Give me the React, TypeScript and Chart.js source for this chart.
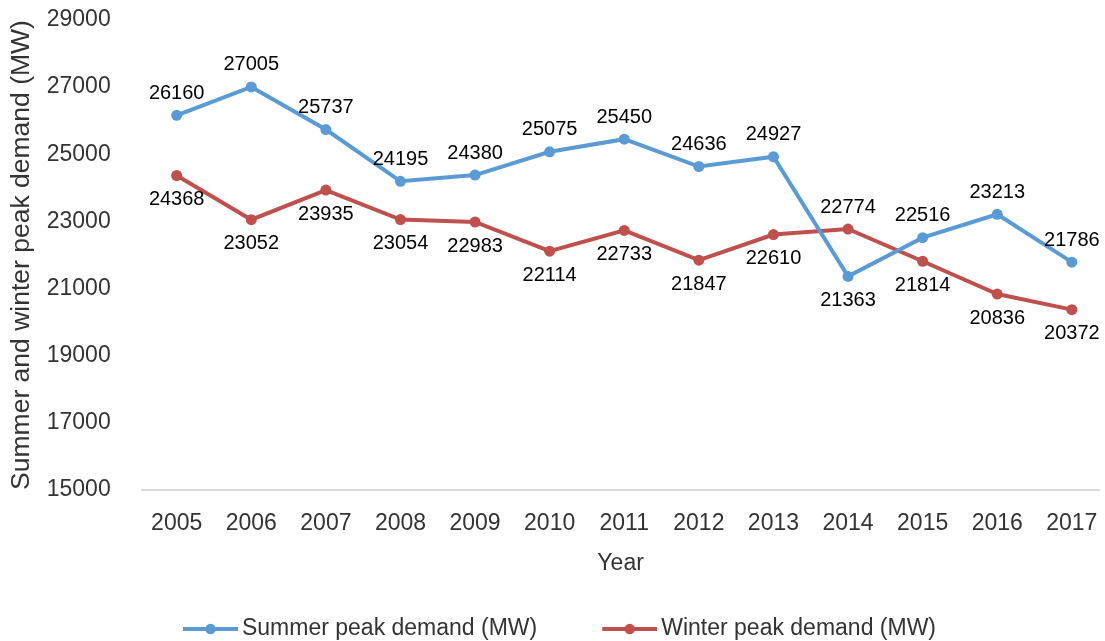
import { useEffect, useRef } from "react";
import { Chart, registerables } from "chart.js";

Chart.register(...registerables);

const years = [2005, 2006, 2007, 2008, 2009, 2010, 2011, 2012, 2013, 2014, 2015, 2016, 2017];
const summerPeak = [26160, 27005, 25737, 24195, 24380, 25075, 25450, 24636, 24927, 21363, 22516, 23213, 21786];
const winterPeak = [24368, 23052, 23935, 23054, 22983, 22114, 22733, 21847, 22610, 22774, 21814, 20836, 20372];
const yTickValues = [15000, 17000, 19000, 21000, 23000, 25000, 27000, 29000];
const summerLabel = "Summer peak demand (MW)";
const winterLabel = "Winter peak demand (MW)";
const yAxisTitle = "Summer and winter peak demand (MW)";
const xAxisTitle = "Year";

const BLUE = "#5B9BD5";
const RED = "#C0504D";
const FONT = "'Liberation Sans', Arial, sans-serif";
const TEXT = "#333333";

// legend icon: box width 46, image spans from x-7.5 to x+53.5
function makeLegendIcon(color: string) {
  const c = document.createElement("canvas");
  c.width = 61;
  c.height = 14;
  const ctx = c.getContext("2d")!;
  ctx.strokeStyle = color;
  ctx.lineWidth = 4;
  ctx.beginPath();
  ctx.moveTo(6, 7);
  ctx.lineTo(61, 7);
  ctx.stroke();
  ctx.fillStyle = color;
  ctx.beginPath();
  ctx.arc(33.5, 7, 5.3, 0, Math.PI * 2);
  ctx.fill();
  return c;
}

const valueLabels = {
  id: "valueLabels",
  afterDatasetsDraw(chart: any) {
    const ctx = chart.ctx;
    ctx.save();
    ctx.font = `20px ${FONT}`;
    ctx.fillStyle = "#000000";
    ctx.textAlign = "center";
    ctx.textBaseline = "middle";
    chart.data.datasets.forEach((ds: any, di: number) => {
      const meta = chart.getDatasetMeta(di);
      const other = chart.data.datasets[1 - di].data;
      meta.data.forEach((pt: any, i: number) => {
        const v = ds.data[i].y;
        const o = other[i].y;
        const above = v >= o;
        ctx.fillText(String(v), pt.x, pt.y + (above ? -22 : 24));
      });
    });
    ctx.restore();
  },
};

export default function App() {
  const ref = useRef<HTMLCanvasElement | null>(null);

  useEffect(() => {
    if (!ref.current) return;
    const icons = [makeLegendIcon(BLUE), makeLegendIcon(RED)];
    const chart = new Chart(ref.current, {
      type: "line",
      data: {
        datasets: [
          {
            label: summerLabel,
            data: years.map((y, i) => ({ x: y, y: summerPeak[i] })),
            borderColor: BLUE,
            backgroundColor: BLUE,
            pointBackgroundColor: BLUE,
            pointBorderWidth: 0,
            pointRadius: 5.5,
            borderWidth: 4,
            tension: 0,
          },
          {
            label: winterLabel,
            data: years.map((y, i) => ({ x: y, y: winterPeak[i] })),
            borderColor: RED,
            backgroundColor: RED,
            pointBackgroundColor: RED,
            pointBorderWidth: 0,
            pointRadius: 5.5,
            borderWidth: 4,
            tension: 0,
          },
        ],
      },
      options: {
        responsive: false,
        animation: false,
        layout: { padding: { top: 20, left: 15.5, right: 0, bottom: -9.5 } },
        plugins: {
          tooltip: { enabled: false },
          legend: {
            position: "bottom",
            labels: {
              usePointStyle: true,
              pointStyleWidth: 46,
              padding: 66.5,
              color: TEXT,
              font: { family: FONT, size: 23 },
              generateLabels: (c: any) => {
                const items = (Chart as any).defaults.plugins.legend.labels.generateLabels(c);
                items.forEach((it: any, i: number) => {
                  it.pointStyle = icons[i];
                });
                return items;
              },
            },
          },
        },
        scales: {
          x: {
            type: "linear",
            min: 2004.531,
            max: 2017.371,
            afterBuildTicks: (s: any) => {
              s.ticks = years.map((v) => ({ value: v }));
            },
            afterFit: (s: any) => {
              s.height = 61;
              s.paddingLeft = 0;
              s.paddingRight = 0;
            },
            grid: { display: false },
            border: { display: true, color: "#D9D9D9", width: 2 },
            ticks: {
              padding: 12,
              color: TEXT,
              font: { family: FONT, size: 23 },
              callback: (v: any) => String(v),
              maxRotation: 0,
              autoSkip: false,
            },
            title: {
              display: true,
              text: xAxisTitle,
              color: TEXT,
              font: { family: FONT, size: 23 },
              padding: { top: 0, bottom: -26 },
            },
          },
          y: {
            min: 15000,
            max: 29000,
            afterBuildTicks: (s: any) => {
              s.ticks = yTickValues.map((v) => ({ value: v }));
            },
            afterFit: (s: any) => {
              s.width = 126.2;
              s.paddingTop = 0;
              s.paddingBottom = 0;
            },
            grid: { display: false },
            border: { display: false },
            ticks: {
              padding: 23,
              color: TEXT,
              font: { family: FONT, size: 23 },
              callback: (v: any) => String(v),
            },
            title: {
              display: true,
              text: yAxisTitle,
              color: TEXT,
              font: { family: FONT, size: 26.5 },
              padding: { top: -10, bottom: 0 },
            },
          },
        },
      },
      plugins: [valueLabels],
    } as any);
    return () => chart.destroy();
  }, []);

  return (
    <div style={{ position: "fixed", left: 0, top: 0, width: 1105, height: 641, background: "#ffffff" }}>
      <canvas ref={ref} width={1105} height={641} style={{ display: "block" }} />
    </div>
  );
}
